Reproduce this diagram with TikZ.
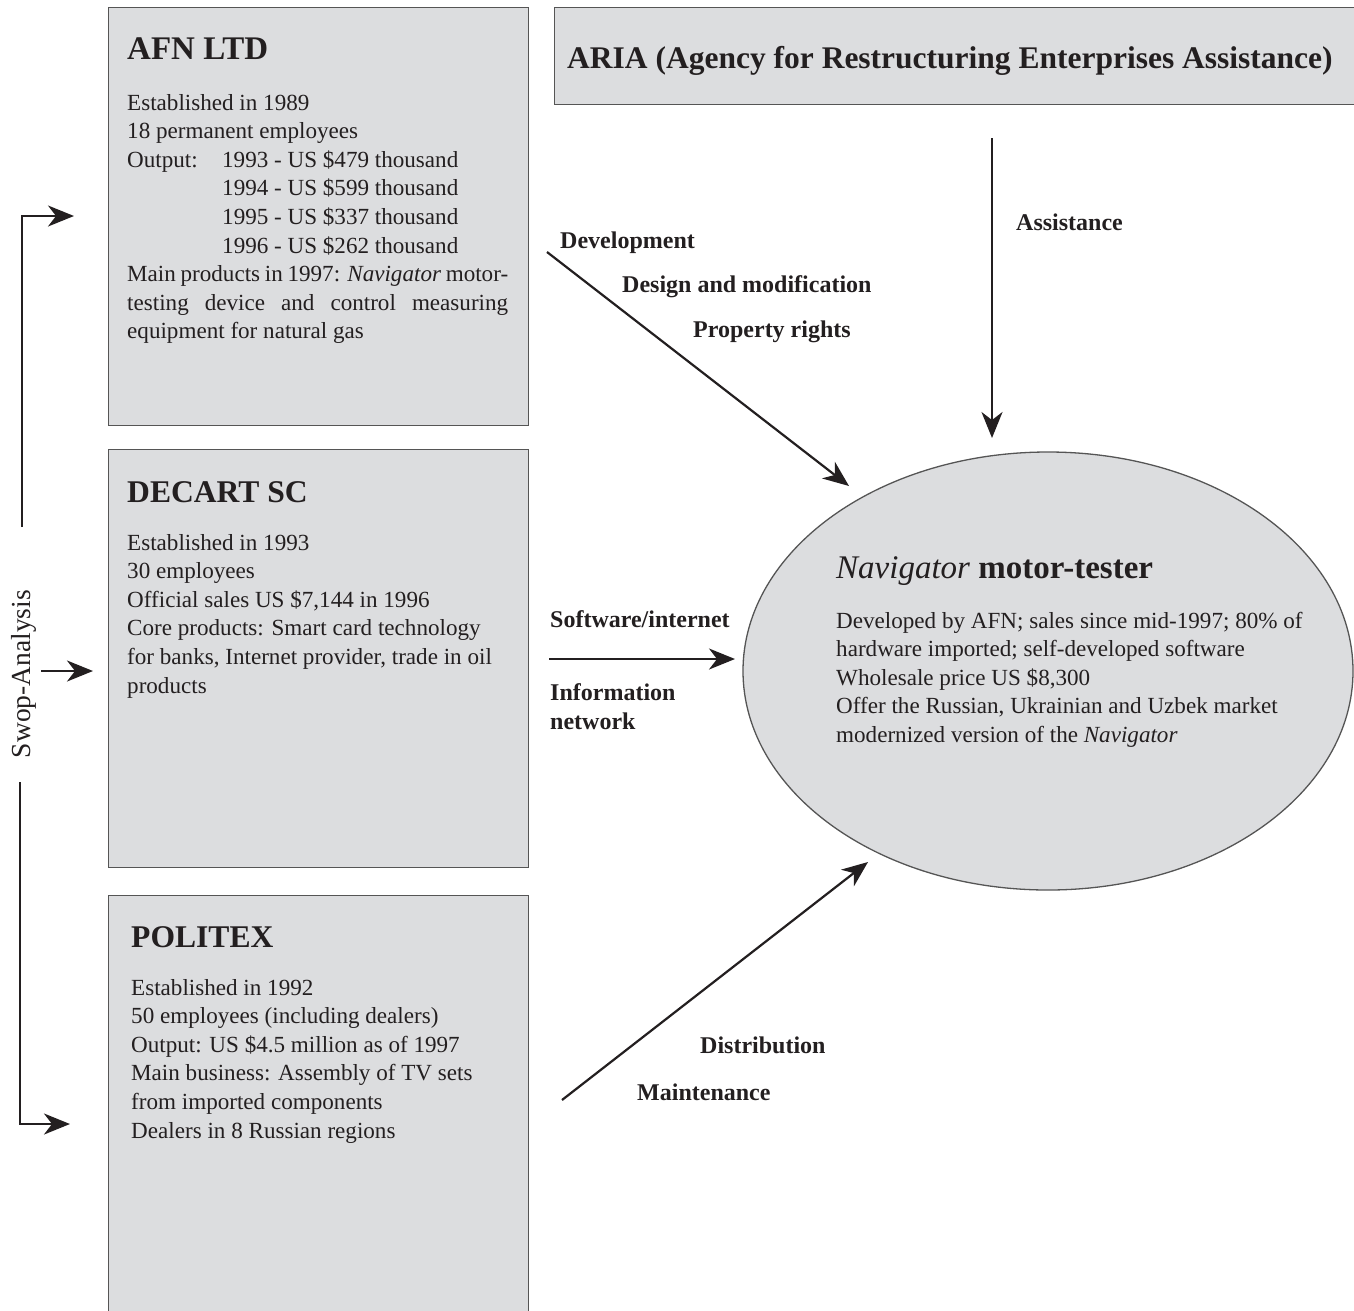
\documentclass[tikz,border=0pt]{standalone}
\usepackage{fontspec}
\setmainfont{Liberation Serif}
\usetikzlibrary{arrows.meta,shapes.geometric}
\definecolor{boxfill}{HTML}{DCDDDF}
\definecolor{boxline}{HTML}{555555}
\definecolor{inkc}{HTML}{231F20}
\begin{document}
\begin{tikzpicture}[x=1pt,y=-1pt,
  box/.style={draw=boxline, fill=boxfill, line width=1.3pt, inner sep=0pt},
  arr/.style={line width=2.2pt, draw=inkc, -{Stealth[length=26pt,width=21pt,inset=8pt]}},
  brk/.style={line width=2.2pt, draw=inkc},
  ttl/.style={anchor=base west, inner sep=0pt, font=\fontsize{31.6}{36}\selectfont\bfseries, text=inkc},
  bodytxt/.style={anchor=base west, inner sep=0pt, text=inkc, font=\fontsize{23.1}{28.6}\selectfont},
  lbl/.style={anchor=base west, inner sep=0pt, font=\fontsize{24}{28}\selectfont\bfseries, text=inkc}]
\useasboundingbox (0,0) rectangle (1354,1310);

% boxes
\node[box, anchor=north west, minimum width=420pt, minimum height=418pt] (afn) at (108,7) {};
\node[box, anchor=north west, minimum width=420pt, minimum height=418pt] (decart) at (108,449) {};
\node[box, anchor=north west, minimum width=420pt, minimum height=425pt] (politex) at (108,895) {};
\node[box, anchor=north west, minimum width=806pt, minimum height=97pt] (aria) at (554,7) {};
\node[box, ellipse, minimum width=610pt, minimum height=438pt] (nav) at (1048,671) {};

% titles
\node[ttl, font=\fontsize{33}{36}\selectfont\bfseries] (afnT) at (127,59) {AFN LTD};
\node[ttl] (decT) at (127,502) {DECART SC};
\node[ttl] (polT) at (131,947) {POLITEX};
\node[ttl, font=\fontsize{31.5}{36}\selectfont\bfseries] (ariaT) at (567,68) {ARIA (Agency for Restructuring Enterprises Assistance)};
\node[anchor=base west, inner sep=0pt, text=inkc, font=\fontsize{33}{36}\selectfont] (navT) at (836,578) {\textit{Navigator} \textbf{motor-tester}};

% bodies
\node[bodytxt] (afnB) at (127,110) {\parbox[t]{381pt}{\raggedright
Established in 1989\\
18 permanent employees\\
\makebox[95pt][l]{Output:}1993 - US \$479 thousand\\
\hspace*{95pt}1994 - US \$599 thousand\\
\hspace*{95pt}1995 - US \$337 thousand\\
\hspace*{95pt}1996 - US \$262 thousand\\
\makebox[381pt][s]{Main products in 1997: \textit{Navigator} motor-}\\
\makebox[381pt][s]{testing device and control measuring}\\
equipment for natural gas}};

\node[bodytxt] (decB) at (127,550) {\parbox[t]{400pt}{\raggedright
Established in 1993\\
30 employees\\
Official sales US \$7,144 in 1996\\
Core products: Smart card technology\\
for banks, Internet provider, trade in oil\\
products}};

\node[bodytxt] (polB) at (131,995) {\parbox[t]{400pt}{\raggedright
Established in 1992\\
50 employees (including dealers)\\
Output: US \$4.5 million as of 1997\\
Main business: Assembly of TV sets\\
from imported components\\
Dealers in 8 Russian regions}};

\node[bodytxt] (navB) at (836,628) {\parbox[t]{500pt}{\raggedright
Developed by AFN; sales since mid-1997; 80\% of\\
hardware imported; self-developed software\\
Wholesale price US \$8,300\\
Offer the Russian, Ukrainian and Uzbek market\\
modernized version of the \textit{Navigator}}};

% connector labels
\node[lbl] (l1) at (560,248) {Development};
\node[lbl] (l2) at (622,292) {Design and modification};
\node[lbl] (l3) at (693,337) {Property rights};
\node[lbl] (l4) at (1016,230) {Assistance};
\node[lbl] (l5) at (550,627) {Software/internet};
\node[lbl] (l6) at (550,700) {Information};
\node[lbl] (l7) at (550,729) {network};
\node[lbl] (l8) at (700,1053) {Distribution};
\node[lbl] (l9) at (637,1100) {Maintenance};

% connectors
\coordinate (devS) at (547,252);
\coordinate (devE) at (849,486);
\coordinate (asS) at (992,138);
\coordinate (asE) at (992,438);
\coordinate (swS) at (549,659);
\coordinate (swE) at (735,659);
\coordinate (diS) at (562,1100);
\coordinate (diE) at (868,862);
\draw[arr] (devS) -- (devE);
\draw[arr] (asS) -- (asE);
\draw[arr] (swS) -- (swE);
\draw[arr] (diS) -- (diE);

% Swop-Analysis bracket
\coordinate (gTop) at (22,527);
\coordinate (cTop) at (22,216);
\coordinate (eTop) at (74,216);
\coordinate (gBot) at (20,782);
\coordinate (cBot) at (20,1124);
\coordinate (eBot) at (70,1124);
\coordinate (mS) at (41,671);
\coordinate (mE) at (93,671);
\draw[brk, -{Stealth[length=26pt,width=21pt,inset=8pt]}] (gTop) -- (cTop) -- (eTop);
\draw[brk, -{Stealth[length=26pt,width=21pt,inset=8pt]}] (gBot) -- (cBot) -- (eBot);
\draw[arr] (mS) -- (mE);
\node[rotate=90, inner sep=0pt, text=inkc, font=\fontsize{27.5}{30}\selectfont] (swop) at (24,674) {Swop-Analysis};
\end{tikzpicture}
\end{document}
